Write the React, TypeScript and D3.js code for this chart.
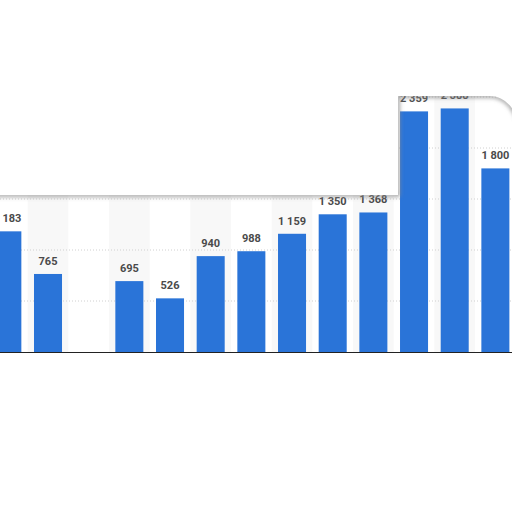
import React from "react";
import * as d3 from "d3";

const categories = ["c1", "c2", "c3", "c4", "c5", "c6", "c7", "c8", "c9", "c10", "c11", "c12", "c13"];
const values: (number | null)[] = [1183, 765, null, 695, 526, 940, 988, 1159, 1350, 1368, 2359, 2388, 1800];
const gridTicks = [500, 1000, 1500, 2000, 2500];

const W = 512;
const H = 512;
const fmt = (v: number) => d3.format(",")(v).replace(/,/g, " ");

export default function App() {
  const x = d3
    .scaleBand<string>()
    .domain(categories)
    .range([-13, -13 + 13 * 40.67])
    .paddingInner(0.311)
    .paddingOuter(0.1555);
  const y = d3.scaleLinear().domain([0, 2500]).range([352, 97]);
  const step = x.step();
  const overlay = "M0,-10 H522 V130 Q512,96 490,96 H398 V195 H-10 Z";

  return (
    <svg
      width={W}
      height={H}
      style={{ position: "fixed", left: 0, top: 0, background: "#fff" }}
    >
      <defs>
        <filter id="blur" x="-10%" y="-10%" width="120%" height="120%">
          <feGaussianBlur stdDeviation="2" />
        </filter>
      </defs>
      {categories.map((c, i) =>
        i % 2 === 1 ? (
          <rect
            key={"band" + c}
            x={(x(c) as number) + x.bandwidth() / 2 - step / 2}
            y={0}
            width={step}
            height={y(0)}
            fill="#f8f8f8"
          />
        ) : null
      )}
      {gridTicks.map((t) => (
        <line
          key={"g" + t}
          x1={0}
          x2={W}
          y1={y(t)}
          y2={y(t)}
          stroke="#d0d0d0"
          strokeWidth={1}
          strokeDasharray="1,2"
        />
      ))}
      {categories.map((c, i) => {
        const v = values[i];
        if (v == null) return null;
        return (
          <rect
            key={"bar" + c}
            x={x(c)}
            y={y(v)}
            width={x.bandwidth()}
            height={y(0) - y(v)}
            fill="#2a74d8"
          />
        );
      })}
      {categories.map((c, i) => {
        const v = values[i];
        if (v == null) return null;
        return (
          <text
            key={"lab" + c}
            x={(x(c) as number) + x.bandwidth() / 2}
            y={y(v) - 9}
            textAnchor="middle"
            fontFamily="Roboto, 'Noto Sans', sans-serif"
            fontWeight={700}
            fontSize={11}
            fill="#4a4a4a"
          >
            {fmt(v)}
          </text>
        );
      })}
      <line x1={0} x2={W} y1={y(0) + 0.5} y2={y(0) + 0.5} stroke="#222" strokeWidth={1} />
      <path d={overlay} fill="none" stroke="#8a8a8a" strokeWidth={3} filter="url(#blur)" />
      <path d={overlay} fill="#ffffff" />
    </svg>
  );
}
